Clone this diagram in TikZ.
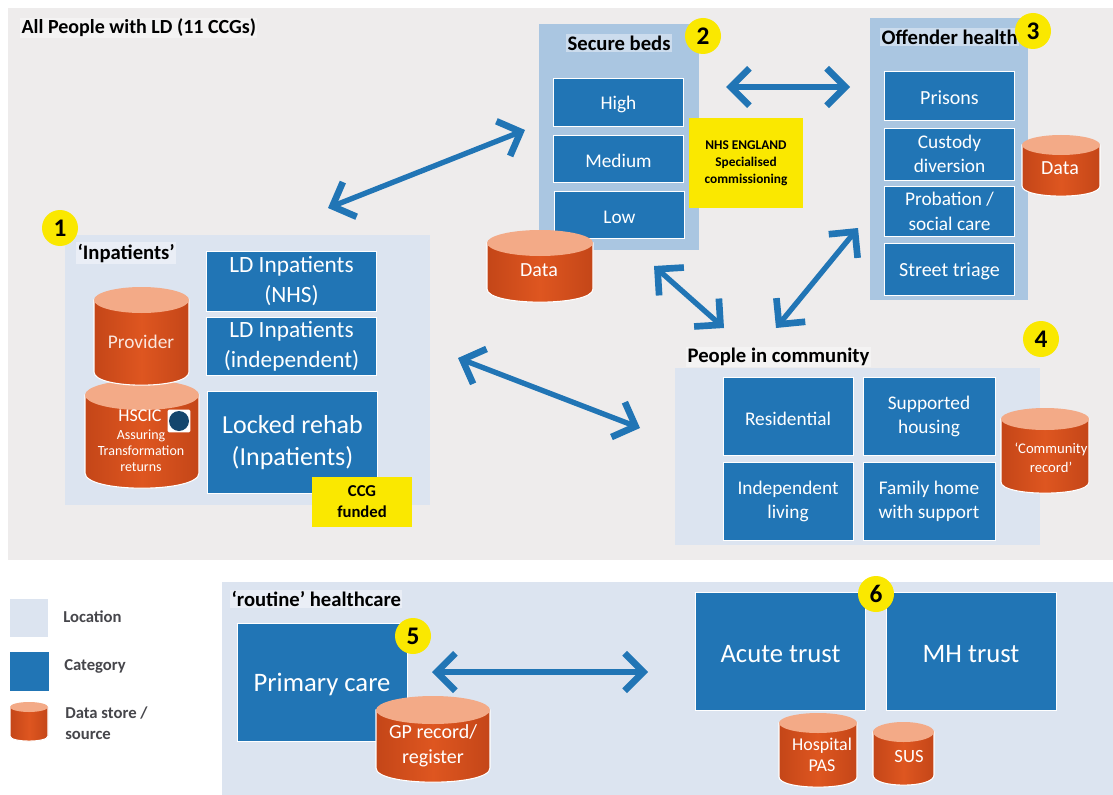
\documentclass[tikz,border=0pt]{standalone}
\usepackage{fontspec}
\setmainfont{Carlito}
\usetikzlibrary{arrows.meta}
\definecolor{panelgrey}{RGB}{238,236,236}
\definecolor{locblue}{RGB}{220,228,240}
\definecolor{midblue}{RGB}{170,198,225}
\definecolor{catblue}{RGB}{33,117,181}
\definecolor{dsorange}{RGB}{222,86,32}
\definecolor{dsdark}{RGB}{196,70,24}
\definecolor{dstop}{RGB}{243,170,135}
\definecolor{flagyellow}{RGB}{250,232,0}
\definecolor{legendtext}{RGB}{70,70,75}
\tikzset{
  x=0.75pt,y=-0.75pt,
  region/.style={fill=#1,draw=none},
  cat/.style={fill=catblue,draw=white,line width=0.7pt,text=white,align=center,inner sep=0pt,font=\fontsize{#1}{\fpeval{1.26*#1}}\selectfont,execute at begin node={\rule{0pt}{0.9em}}},
  cat/.default=14,
  tall/.style={execute at begin node={\rule{0pt}{1.3em}}},
  flag/.style={fill=flagyellow,draw=none,align=center,inner sep=0pt,font=\bfseries\fontsize{#1}{\fpeval{1.27*#1}}\selectfont},
  head/.style={font=\bfseries\fontsize{15.5}{17}\selectfont,inner sep=1pt,anchor=west,fill=white,fill opacity=0.4,text opacity=1},
  badge/.style={circle,fill=flagyellow,draw=none,inner sep=0pt,minimum size=27pt,font=\bfseries\fontsize{19}{20}\selectfont},
  dual/.style={draw=catblue,line width=4pt,{Straight Barb[length=14pt,width=28pt,line width=5pt]}-{Straight Barb[length=14pt,width=28pt,line width=5pt]}},
  cyltext/.style={text=white,align=center,inner sep=0pt},
  legendlabel/.style={text=legendtext,font=\bfseries\fontsize{12.5}{16}\selectfont,anchor=west,align=left,inner sep=0pt},
}
% name, left, top, right, bottom, cap ry
\newcommand{\datastore}[6]{%
  \draw[white,line width=0.8pt,left color=dsdark,right color=dsdark,middle color=dsorange] (#2,#3+#6) -- (#4,#3+#6) -- (#4,#5-#6)
     .. controls (#4,#5-0.2*#6+#6*0.55) and (#2,#5-0.2*#6+#6*0.55) .. (#2,#5-#6) -- cycle;
  \fill[dstop] ({(#2+#4)/2},#3+#6) ellipse [x radius={(#4-#2)/2*0.75pt},y radius={#6*0.75pt}];
}
\begin{document}
\begin{tikzpicture}
\useasboundingbox (0,0) rectangle (1113,795);
\fill[white] (0,0) rectangle (1113,795);
\fill[panelgrey] (8,8) rectangle (1113,560);
\fill[region=locblue] (222,582) rectangle (1113,795);
\fill[region=locblue] (65,235) rectangle (430,505);
\fill[region=locblue] (675,368) rectangle (1040,545);
\fill[region=midblue] (539,24) rectangle (699,250);
\fill[region=midblue] (870,18) rectangle (1028,300);

\node[head,font=\bfseries\fontsize{15}{17}\selectfont] (allpeople) at (20,28) {All People with LD (11 CCGs)};
\node[head] (securehead) at (566,43) {Secure beds};
\node[head] (offenderhead) at (880,37) {Offender health};
\node[head] (inpatienthead) at (76,253) {‘Inpatients’};
\node[head] (communityhead) at (686,357) {People in community};
\node[head] (routinehead) at (230,599) {‘routine’ healthcare};

\node[cat=14.5,minimum width=98pt,minimum height=36pt] (high) at (618.5,102) {High};
\node[cat=14.5,minimum width=98pt,minimum height=35pt] (medium) at (618.5,159) {Medium};
\node[cat=14.5,minimum width=98pt,minimum height=35pt] (low) at (619.5,215) {Low};
\node[flag=10,minimum width=85.5pt,minimum height=67.5pt] (nhs) at (746,163) {NHS ENGLAND\\Specialised\\commissioning};

\node[cat=15,minimum width=98pt,minimum height=37pt] (prisons) at (949.5,96) {Prisons};
\node[cat=14.5,tall,minimum width=98pt,minimum height=39pt] (custody) at (949.5,154) {Custody\\diversion};
\node[cat=14.5,tall,minimum width=98pt,minimum height=38pt] (probation) at (949.5,211.5) {Probation /\\social care};
\node[cat=15,minimum width=98pt,minimum height=39pt] (street) at (949.5,269) {Street triage};

\node[cat=17.5,tall,minimum width=128pt,minimum height=45pt] (ldnhs) at (291.5,281) {LD Inpatients\\(NHS)};
\node[cat=17.5,tall,minimum width=128pt,minimum height=44pt] (ldind) at (291.5,346.5) {LD Inpatients\\(independent)};
\node[cat=19.5,tall,minimum width=128pt,minimum height=77pt] (locked) at (292.5,442.5) {Locked rehab\\(Inpatients)};
\node[flag=12.5,minimum width=75pt,minimum height=37.5pt] (ccg) at (362,502) {CCG\\funded};

\node[cat=14.5,minimum width=97.5pt,minimum height=58pt] (residential) at (788,416.5) {Residential};
\node[cat=14.5,tall,minimum width=99pt,minimum height=58pt] (supported) at (929,416.5) {Supported\\housing};
\node[cat=14.5,tall,minimum width=97.5pt,minimum height=58pt] (independent) at (788,501.5) {Independent\\living};
\node[cat=14.5,tall,minimum width=99pt,minimum height=58pt] (family) at (929,501.5) {Family home\\with support};

\node[cat=20,minimum width=127.5pt,minimum height=88.5pt] (primary) at (322,682) {Primary care};
\node[cat=20,minimum width=128pt,minimum height=88.5pt] (acute) at (780.5,651) {Acute trust};
\node[cat=20,minimum width=127.5pt,minimum height=88.5pt] (mh) at (971,651) {MH trust};

% data stores
\datastore{sdata}{487}{230}{593}{302}{13}
\node[cyltext,font=\fontsize{15}{17}\selectfont] (sdatal) at (539,270) {Data};
\datastore{odata}{1022}{135}{1100}{196}{10}
\node[cyltext,font=\fontsize{15}{17}\selectfont] (odatal) at (1060,168) {Data};
\datastore{hscic}{85}{380}{199}{488}{15}
\datastore{provider}{94}{287}{189}{385}{13}
\node[cyltext,font=\fontsize{14.5}{17}\selectfont,text=white!85!dsorange] (providerl) at (141,342) {Provider};
\node[cyltext,font=\fontsize{13.5}{15}\selectfont] (hscicl) at (140,416) {HSCIC};
\node[cyltext,font=\fontsize{10.5}{12}\selectfont] (hscicsub) at (141,451) {Assuring\\Transformation\\returns};
\node[fill=white,rounded corners=1pt,minimum size=17pt,inner sep=0pt] (logoback) at (179,421) {};
\node[circle,fill=catblue!60!black,minimum size=15pt,inner sep=0pt] (logo) at (logoback) {};
\datastore{community}{1001}{408}{1089}{493}{11}
\node[cyltext,font=\fontsize{11}{14}\selectfont] (communityl) at (1051,458) {‘Community\\record’};
\datastore{gp}{376}{696}{490}{782}{14}
\node[cyltext,font=\fontsize{15}{19}\selectfont] (gpl) at (433,746) {GP record/\\register};
\datastore{pas}{779}{713}{857}{787}{10}
\node[cyltext,font=\fontsize{13.5}{15.5}\selectfont] (pasl) at (822,755) {Hospital\\PAS};
\datastore{sus}{873}{722}{934}{785}{10}
\node[cyltext,font=\fontsize{14}{16}\selectfont] (susl) at (909,757) {SUS};

% numbered badges
\node[badge] (b1) at (60,228) {1};
\node[badge] (b2) at (703,36) {2};
\node[badge] (b3) at (1033,31) {3};
\node[badge] (b4) at (1041,339) {4};
\node[badge] (b5) at (413,636) {5};
\node[badge] (b6) at (876,594) {6};

% connectors
\coordinate (a1s) at (328,208); \coordinate (a1e) at (525,130);
\coordinate (a2s) at (726,87);  \coordinate (a2e) at (850,87);
\coordinate (a3s) at (654,266); \coordinate (a3e) at (724,328);
\coordinate (a4s) at (776,328); \coordinate (a4e) at (858,228);
\coordinate (a5s) at (458,358); \coordinate (a5e) at (640,428);
\coordinate (a6s) at (432,672); \coordinate (a6e) at (648,672);
\draw[dual] (a1s) -- (a1e);
\draw[dual] (a2s) -- (a2e);
\draw[dual] (a3s) -- (a3e);
\draw[dual] (a4s) -- (a4e);
\draw[dual] (a5s) -- (a5e);
\draw[dual] (a6s) -- (a6e);

% legend
\fill[region=locblue] (10,599) rectangle (48,637);
\fill[catblue] (10,652) rectangle (49,691);
\datastore{legendds}{10}{702}{48}{741}{5}
\node[legendlabel] (legloc) at (63,617) {Location};
\node[legendlabel] (legcat) at (64,666) {Category};
\node[legendlabel] (legds) at (65,723) {Data store /\\source};
\end{tikzpicture}
\end{document}
